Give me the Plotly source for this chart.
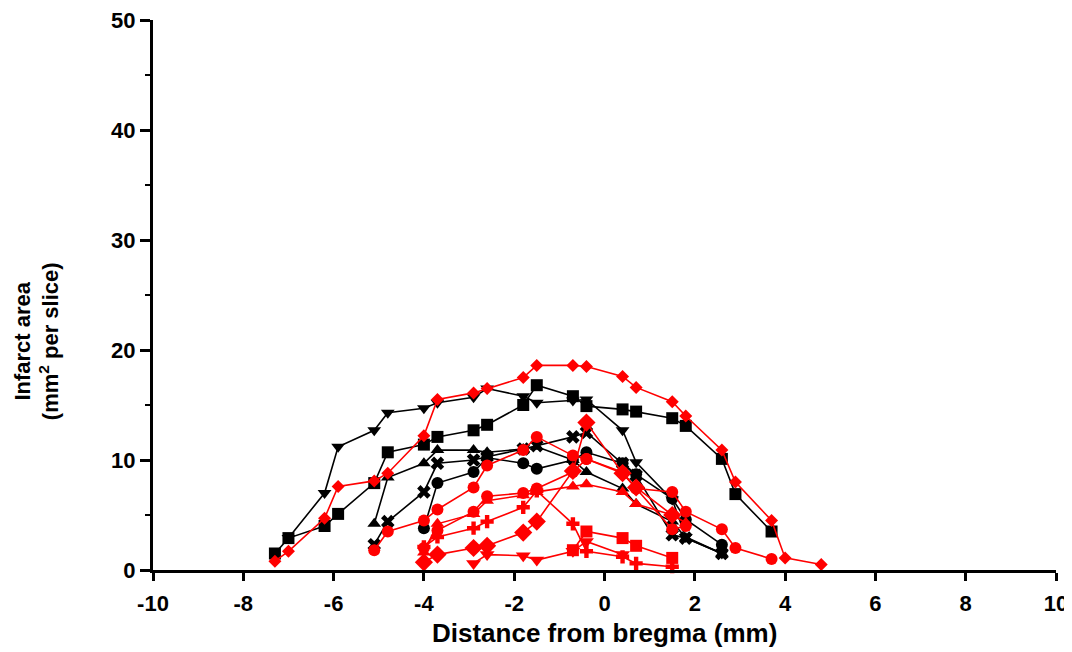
import plotly.graph_objects as go

# ---------------- data (distance from bregma, mm ; infarct area, mm^2) ----------------
# black group
blk_square_x = [-7.3, -7.0, -6.2, -5.9, -5.1, -4.8, -4.0, -3.7, -2.9, -2.6, -1.8, -1.5, -0.7, -0.4, 0.4, 0.7, 1.5, 1.8, 2.6, 2.9, 3.7]
blk_square_y = [1.5, 2.9, 4.0, 5.1, 7.9, 10.7, 11.4, 12.1, 12.7, 13.2, 15.0, 16.8, 15.8, 14.9, 14.6, 14.4, 13.8, 13.1, 10.1, 6.9, 3.5]

blk_tridown_x = [-7.0, -6.2, -5.9, -5.1, -4.8, -4.0, -3.7, -2.9, -2.6, -1.8, -1.5, -0.7, -0.4, 0.4, 0.7, 1.5, 1.8, 2.6]
blk_tridown_y = [2.9, 7.0, 11.2, 12.7, 14.3, 14.7, 15.2, 15.7, 16.5, 15.8, 15.2, 15.4, 15.5, 12.7, 9.8, 6.4, 3.0, 1.5]

blk_triup_x = [-5.1, -4.8, -4.0, -3.7, -2.9, -2.6, -1.8, -1.5, -0.7, -0.4, 0.4, 0.7, 1.5, 1.8, 2.6]
blk_triup_y = [4.2, 8.4, 9.7, 10.9, 10.9, 10.7, 11.0, 11.2, 10.0, 8.9, 7.4, 6.0, 4.4, 2.9, 1.5]

blk_x_x = [-5.1, -4.8, -4.0, -3.7, -2.9, -2.6, -1.8, -1.5, -0.7, -0.4, 0.4, 0.7, 1.5, 1.8, 2.6]
blk_x_y = [2.3, 4.4, 7.1, 9.7, 10.0, 10.3, 11.0, 11.3, 12.1, 12.5, 9.7, 8.6, 3.2, 2.9, 1.5]

blk_circle_x = [-4.0, -3.7, -2.9, -2.6, -1.8, -1.5, -0.7, -0.4, 0.4, 0.7, 1.5, 1.8, 2.6]
blk_circle_y = [3.8, 7.9, 8.9, 10.2, 9.7, 9.2, 10.0, 10.7, 9.7, 8.7, 6.5, 4.6, 2.3]

# red group
red_smalldiamond_x = [-7.3, -7.0, -6.2, -5.9, -5.1, -4.8, -4.0, -3.7, -2.9, -2.6, -1.8, -1.5, -0.7, -0.4, 0.4, 0.7, 1.5, 1.8, 2.6, 2.9, 3.7, 4.0, 4.8]
red_smalldiamond_y = [0.8, 1.7, 4.7, 7.6, 8.1, 8.8, 12.2, 15.5, 16.1, 16.5, 17.5, 18.6, 18.6, 18.5, 17.6, 16.6, 15.3, 14.0, 10.9, 8.0, 4.5, 1.1, 0.5]

red_circle1_x = [-5.1, -4.8, -4.0, -3.7, -2.9, -2.6, -1.8, -1.5, -0.7, -0.4, 0.4, 0.7, 1.5, 1.8, 2.6, 2.9, 3.7]
red_circle1_y = [1.8, 3.5, 4.5, 5.5, 7.5, 9.5, 10.9, 12.1, 10.4, 10.1, 8.8, 7.4, 7.1, 5.3, 3.7, 2.0, 1.0]

red_circle2_x = [-4.0, -3.7, -2.9, -2.6, -1.8, -1.5, -0.7, -0.4, 0.4, 0.7, 1.5, 1.8]
red_circle2_y = [2.0, 3.6, 5.3, 6.7, 7.0, 7.4, 8.9, 10.1, 8.9, 7.4, 3.7, 4.0]

red_triup_x = [-4.0, -3.7, -2.9, -2.6, -1.8, -1.5, -0.7, -0.4, 0.4, 0.7, 1.5, 1.8]
red_triup_y = [1.6, 4.2, 5.1, 6.3, 6.8, 7.1, 7.6, 7.8, 7.1, 6.0, 5.0, 4.3]

red_diamond_x = [-4.0, -3.7, -2.9, -2.6, -1.8, -1.5, -0.7, -0.4, 0.4, 0.7, 1.5]
red_diamond_y = [0.7, 1.4, 2.0, 2.2, 3.4, 4.4, 9.0, 13.4, 8.8, 7.5, 5.0]

red_cross_x = [-4.0, -3.7, -2.9, -2.6, -1.8, -1.5, -0.7, -0.4, 0.4, 0.7, 1.5]
red_cross_y = [2.1, 3.0, 3.8, 4.4, 5.7, 7.2, 4.2, 1.7, 1.2, 0.6, 0.3]

red_square_x = [-0.7, -0.4, 0.4, 0.7, 1.5]
red_square_y = [1.8, 3.5, 2.9, 2.2, 1.1]

red_tridown_x = [-2.9, -2.6, -1.8, -1.5, -0.7, -0.4, 0.4]
red_tridown_y = [0.6, 1.4, 1.3, 0.9, 1.7, 2.6, 1.4]

x_tick_vals = [-10, -8, -6, -4, -2, 0, 2, 4, 6, 8, 10]
x_tick_text = ["-10", "-8", "-6", "-4", "-2", "0", "2", "4", "6", "8", "10"]
y_tick_vals = [0, 10, 20, 30, 40, 50]
y_tick_text = ["0", "10", "20", "30", "40", "50"]

# ---------------- figure ----------------
BLACK = "#000000"
RED = "#ff0000"
FONT = "Arial, 'Liberation Sans', sans-serif"

series = [
    (blk_square_x, blk_square_y, BLACK, "square", 12),
    (blk_tridown_x, blk_tridown_y, BLACK, "triangle-down", 12),
    (blk_triup_x, blk_triup_y, BLACK, "triangle-up", 12),
    (blk_x_x, blk_x_y, BLACK, "x", 12),
    (blk_circle_x, blk_circle_y, BLACK, "circle", 12),
    (red_tridown_x, red_tridown_y, RED, "triangle-down", 13),
    (red_square_x, red_square_y, RED, "square", 12),
    (red_cross_x, red_cross_y, RED, "cross", 11),
    (red_diamond_x, red_diamond_y, RED, "diamond", 14),
    (red_triup_x, red_triup_y, RED, "triangle-up", 12),
    (red_circle2_x, red_circle2_y, RED, "circle", 12),
    (red_circle1_x, red_circle1_y, RED, "circle", 12),
    (red_smalldiamond_x, red_smalldiamond_y, RED, "diamond", 10),
]

fig = go.Figure()
for xs, ys, col, sym, size in series:
    fig.add_trace(go.Scatter(
        x=xs, y=ys, mode="lines+markers",
        line=dict(color=col, width=1.6),
        marker=dict(color=col, symbol=sym, size=size, line=dict(width=0)),
        showlegend=False, cliponaxis=False,
    ))

fig.update_layout(
    width=1064, height=644,
    margin=dict(l=145, r=16, t=12, b=82),
    plot_bgcolor="white", paper_bgcolor="white",
    font=dict(family=FONT, color="black"),
    showlegend=False,
)
fig.update_xaxes(
    range=[-10, 10], tickvals=x_tick_vals, ticktext=x_tick_text,
    showgrid=False, zeroline=False, automargin=False,
    showline=True, linecolor="black", linewidth=3,
    ticks="outside", ticklen=8, tickwidth=2.5, tickcolor="black",
    ticklabelstandoff=4, ticklabeloverflow="allow",
    tickfont=dict(size=22, family=FONT, weight="bold"),
)
fig.update_yaxes(
    range=[0, 50], tickvals=y_tick_vals, ticktext=y_tick_text,
    showgrid=False, zeroline=False, automargin=False,
    showline=True, linecolor="black", linewidth=3,
    ticks="outside", ticklen=10, tickwidth=2.5, tickcolor="black",
    ticklabeloverflow="allow",
    tickfont=dict(size=22, family=FONT, weight="bold"),
    minor=dict(dtick=5, ticks="outside", ticklen=5, tickwidth=2, tickcolor="black", showgrid=False),
)

fig.add_annotation(
    text="Distance from bregma (mm)", xref="paper", yref="paper",
    x=0.5, y=-0.1145, xanchor="center", yanchor="middle", showarrow=False,
    font=dict(size=26, family=FONT, weight="bold"),
)
fig.add_annotation(
    text="Infarct area<br>(mm<sup>2</sup> per slice)", xref="paper", yref="paper",
    x=-0.1285, y=0.416, xanchor="center", yanchor="middle", showarrow=False,
    textangle=-90,
    font=dict(size=22, family=FONT, weight="bold"),
)

fig.write_html("out.html")
